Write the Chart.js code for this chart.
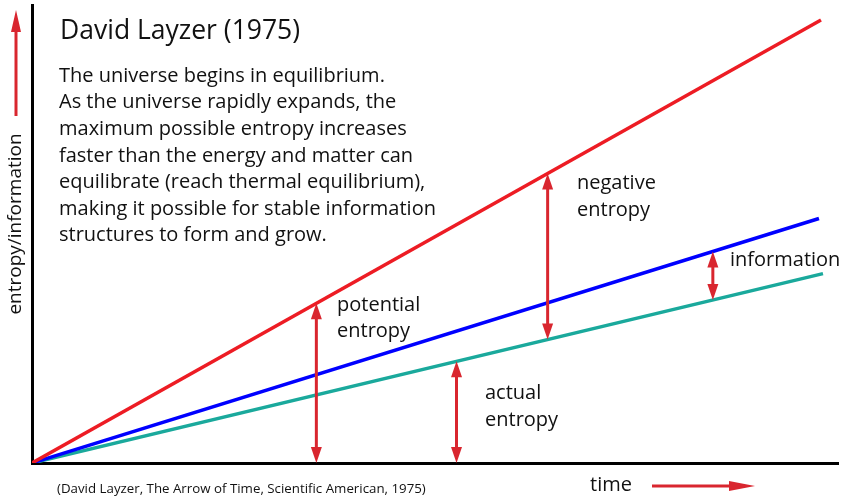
<!DOCTYPE html>
<html>
<head>
<meta charset="utf-8">
<script src="https://cdn.jsdelivr.net/npm/chart.js@4"></script>
<style>
  html, body { margin: 0; padding: 0; background: #fff; }
  #wrap { width: 841px; height: 496px; }
</style>
</head>
<body>
<div id="wrap"><canvas id="myChart" width="841" height="496"></canvas></div>
<script>
// line end points (time, value), all lines start at the origin
const maxEntropyT = [0, 788];
const maxEntropy = [0, 442];
const structureT = [0, 786];
const structure = [0, 244];
const actualEntropyT = [0, 790];
const actualEntropy = [0, 189];

// double arrows: time position, from line, to line
const arrowTimes = [284, 424, 515, 680];
const arrowFrom = ['base', 'base', 'actual', 'actual'];
const arrowTo = ['max', 'actual', 'max', 'structure'];

const titleText = 'David Layzer (1975)';
const bodyLines = [
  'The universe begins in equilibrium.',
  'As the universe rapidly expands, the',
  'maximum possible entropy increases',
  'faster than the energy and matter can',
  'equilibrate (reach thermal equilibrium),',
  'making it possible for stable information',
  'structures to form and grow.'
];
const sourceText = '(David Layzer, The Arrow of Time, Scientific American, 1975)';

const FONT = '"Open Sans", "Noto Sans", sans-serif';
const ARROW = '#d9262f';

function toPoints(ts, vs) {
  return ts.map((t, i) => ({ x: t, y: vs[i] }));
}

function lineValue(name, t) {
  if (name === 'base') return 0;
  if (name === 'max') return maxEntropy[1] * t / maxEntropyT[1];
  if (name === 'structure') return structure[1] * t / structureT[1];
  return actualEntropy[1] * t / actualEntropyT[1];
}

function head(ctx, x, y, dx, dy, len, half) {
  // tip at (x,y), pointing in direction (dx,dy)
  ctx.beginPath();
  ctx.moveTo(x, y);
  ctx.lineTo(x - dx * len - dy * half, y - dy * len + dx * half);
  ctx.lineTo(x - dx * len + dy * half, y - dy * len - dx * half);
  ctx.closePath();
  ctx.fill();
}

const decorations = {
  id: 'decorations',
  afterDatasetsDraw(chart) {
    const ctx = chart.ctx;
    const xs = chart.scales.x, ys = chart.scales.y;
    ctx.save();
    ctx.fillStyle = ARROW;
    ctx.strokeStyle = ARROW;
    ctx.lineWidth = 3;

    // double arrows between lines
    arrowTimes.forEach((t, i) => {
      const px = xs.getPixelForValue(t);
      const yBot = ys.getPixelForValue(lineValue(arrowFrom[i], t));
      const yTop = ys.getPixelForValue(lineValue(arrowTo[i], t));
      const len = Math.min(16, (yBot - yTop) / 3);
      ctx.beginPath();
      ctx.moveTo(px, yTop + len - 2);
      ctx.lineTo(px, yBot - len + 2);
      ctx.stroke();
      head(ctx, px, yTop, 0, -1, len, 5.5);
      head(ctx, px, yBot, 0, 1, len, 5.5);
    });

    // axis direction arrows
    ctx.beginPath();
    ctx.moveTo(16, 116);
    ctx.lineTo(16, 30);
    ctx.stroke();
    head(ctx, 16, 10, 0, -1, 22, 5);
    ctx.beginPath();
    ctx.moveTo(652, 486);
    ctx.lineTo(732, 486);
    ctx.stroke();
    head(ctx, 755, 486, 1, 0, 26, 5);

    // texts
    ctx.fillStyle = '#111';
    ctx.textBaseline = 'middle';
    ctx.textAlign = 'left';
    ctx.font = '26.5px ' + FONT;
    ctx.fillText(titleText, 60, 31);
    ctx.font = '20px ' + FONT;
    bodyLines.forEach((l, i) => ctx.fillText(l, 59, 76 + i * 26.6));

    ctx.font = '20px ' + FONT;
    ctx.fillText('potential', 337, 305);
    ctx.fillText('entropy', 337, 331);
    ctx.fillText('negative', 577, 183);
    ctx.fillText('entropy', 577, 210);
    ctx.fillText('information', 730, 260);
    ctx.fillText('actual', 485, 393);
    ctx.fillText('entropy', 485, 420);

    ctx.font = '20px ' + FONT;
    ctx.fillText('time', 590, 485);
    ctx.font = '13.3px ' + FONT;
    ctx.fillText(sourceText, 57, 489);

    ctx.translate(16, 224);
    ctx.rotate(-Math.PI / 2);
    ctx.textAlign = 'center';
    ctx.font = '19px ' + FONT;
    ctx.fillText('entropy/information', 0, 0);
    ctx.restore();
  }
};

const axisStyle = {
  grid: { display: false, drawTicks: false },
  ticks: { display: false },
  border: { display: true, color: '#000', width: 3 }
};

new Chart(document.getElementById('myChart'), {
  type: 'scatter',
  data: {
    datasets: [
      { data: toPoints(maxEntropyT, maxEntropy), borderColor: '#ed1c24' },
      { data: toPoints(structureT, structure), borderColor: '#0000ff' },
      { data: toPoints(actualEntropyT, actualEntropy), borderColor: '#1aa99c' }
    ].map(d => Object.assign(d, { showLine: true, pointRadius: 0, borderWidth: 3.5, fill: false }))
  },
  options: {
    responsive: false,
    animation: false,
    layout: { padding: { left: 32, top: 5, right: 3, bottom: 33 } },
    plugins: { legend: { display: false }, tooltip: { enabled: false } },
    scales: {
      x: Object.assign({ type: 'linear', min: 0, max: 805 }, axisStyle),
      y: Object.assign({ type: 'linear', min: 0, max: 457 }, axisStyle)
    }
  },
  plugins: [decorations]
});
</script>
</body>
</html>
